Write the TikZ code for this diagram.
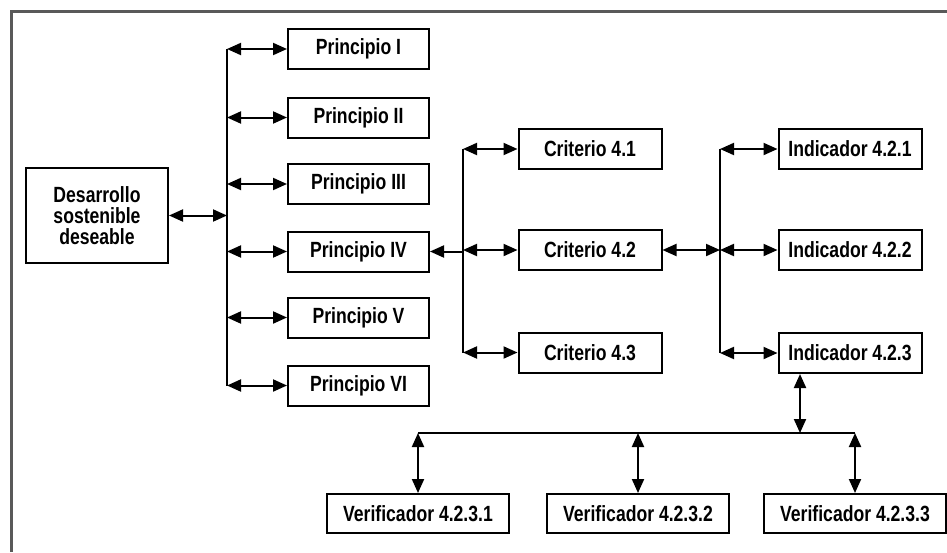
\documentclass[tikz,border=0pt]{standalone}
\usepackage{fontspec}
\setmainfont{Liberation Sans}[FakeStretch=0.8]
\usetikzlibrary{arrows.meta, calc, positioning}
\tikzset{
  frameline/.style = {line width=1.5pt, black!65},
  blk/.style       = {draw, line width=1pt, inner sep=0pt, align=center,
                      font=\fontsize{11}{10.5}\selectfont\bfseries,
                      minimum height=20pt},
  princ/.style     = {blk, minimum width=70.5pt},
  crit/.style      = {blk, minimum width=71.5pt},
  verif/.style     = {blk, minimum width=91pt, minimum height=19.5pt},
  bus/.style       = {line width=1pt},
  link/.style      = {line width=1pt,
                      {Triangle[length=7pt,width=6pt]}-{Triangle[length=7pt,width=6pt]}},
  linkback/.style  = {line width=1pt, {Triangle[length=7pt,width=6pt]}-},
}
\begin{document}
\begin{tikzpicture}[x=0.5pt,y=-0.5pt]
  \useasboundingbox (0,0) rectangle (947,552);
  \draw[frameline] (947,11) -- (11,11) -- (11,552);

  % root
  \node[blk, minimum width=71pt, minimum height=47.5pt] (des) at (97,215.5)
    {Desarrollo\\sostenible\\deseable};

  % principios
  \node[princ] (P1) at (358.5,49)    {Principio I};
  \node[princ] (P2) at (358.5,117.5) {Principio II};
  \node[princ] (P3) at (358.5,184)   {Principio III};
  \node[princ] (P4) at (358.5,251.5) {Principio IV};
  \node[princ] (P5) at (358.5,317.5) {Principio V};
  \node[princ] (P6) at (358.5,385.5) {Principio VI};

  % criterios
  \node[crit] (C1) at (590,149)   {Criterio 4.1};
  \node[crit] (C2) at (590,250)   {Criterio 4.2};
  \node[crit] (C3) at (590,352.5) {Criterio 4.3};

  % indicadores
  \node[crit] (I1) at (850,149)   {Indicador 4.2.1};
  \node[crit] (I2) at (850,250)   {Indicador 4.2.2};
  \node[crit] (I3) at (850,353)   {Indicador 4.2.3};

  % verificadores
  \node[verif] (V1) at (418,513.5) {Verificador 4.2.3.1};
  \node[verif] (V2) at (638,513.5) {Verificador 4.2.3.2};
  \node[verif] (V3) at (855,513.5) {Verificador 4.2.3.3};

  \coordinate (bus1) at (227,0);
  \coordinate (bus2) at (463,0);
  \coordinate (bus3) at (720,0);
  \coordinate (drop) at (800,433);

  % buses
  \draw[bus] (bus1 |- P1) -- (bus1 |- P6);
  \draw[bus] (bus2 |- C1) -- (bus2 |- C3);
  \draw[bus] (bus3 |- I1) -- (bus3 |- I3);
  \draw[bus] (V1 |- drop) -- (V3 |- drop);

  % links
  \draw[link] (des) -- (bus1 |- des);
  \draw[link] (bus1 |- P1) -- (P1);
  \draw[link] (bus1 |- P2) -- (P2);
  \draw[link] (bus1 |- P3) -- (P3);
  \draw[link] (bus1 |- P4) -- (P4);
  \draw[link] (bus1 |- P5) -- (P5);
  \draw[link] (bus1 |- P6) -- (P6);
  \draw[linkback] (P4) -- (bus2 |- P4);
  \draw[link] (bus2 |- C1) -- (C1);
  \draw[link] (bus2 |- C2) -- (C2);
  \draw[link] (bus2 |- C3) -- (C3);
  \draw[link] (C2) -- (bus3 |- C2);
  \draw[link] (bus3 |- I1) -- (I1);
  \draw[link] (bus3 |- I2) -- (I2);
  \draw[link] (bus3 |- I3) -- (I3);
  \draw[link] (drop |- I3.south) -- (drop);
  \draw[link] (V1 |- drop) -- (V1);
  \draw[link] (V2 |- drop) -- (V2);
  \draw[link] (V3 |- drop) -- (V3);
\end{tikzpicture}
\end{document}
